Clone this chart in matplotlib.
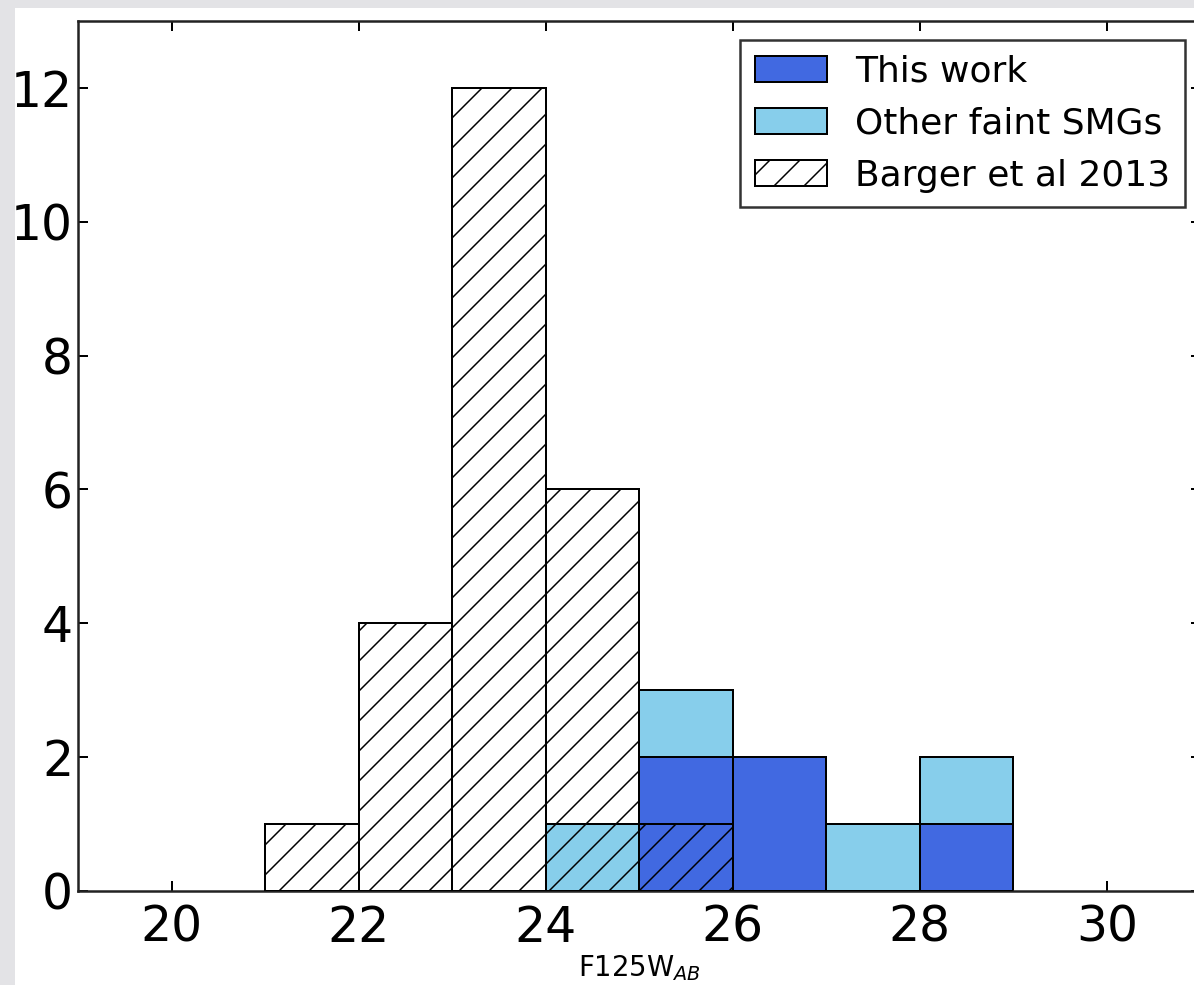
import matplotlib
matplotlib.use("Agg")
import matplotlib.pyplot as plt
from matplotlib.patches import Rectangle

# bin left edges (F125W AB mag), each bin is 1 mag wide
bin_left = [21, 22, 23, 24, 25, 26, 27, 28]
this_work = [0, 0, 0, 0, 2, 2, 0, 1]
other_smgs = [0, 0, 0, 1, 1, 0, 1, 1]
barger = [1, 4, 12, 6, 1, 0, 0, 0]

xticks = [20, 22, 24, 26, 28, 30]
yticks = [0, 2, 4, 6, 8, 10, 12]

plt.rcParams['hatch.linewidth'] = 0.6
plt.rcParams['font.family'] = 'DejaVu Sans'

fig = plt.figure(figsize=(1194 / 180, 985 / 180), dpi=180)
fig.patch.set_facecolor('#e3e3e6')
# white page area (screenshot has a grey shadow on the left and top)
fig.patches.append(Rectangle((15 / 1194, 0), 1, 1 - 8 / 985, transform=fig.transFigure,
                             facecolor='white', edgecolor='none', zorder=-10))

ax = fig.add_axes([78 / 1194, 94 / 985, 1122.5 / 1194, 870 / 985])

ax.bar(bin_left, this_work, width=1, align='edge', color='royalblue',
       edgecolor='black', linewidth=0.8, label='This work', zorder=2)
ax.bar(bin_left, other_smgs, width=1, align='edge', bottom=this_work,
       color='skyblue', edgecolor='black', linewidth=0.8,
       label='Other faint SMGs', zorder=2)
ax.bar(bin_left, barger, width=1, align='edge', fill=False, hatch='//',
       edgecolor='black', linewidth=0.8, label='Barger et al 2013', zorder=3)

ax.set_xlim(19, 31)
ax.set_ylim(0, 13)
ax.set_xticks(xticks)
ax.set_yticks(yticks)
ax.tick_params(direction='in', length=4, width=0.8, top=True, right=True,
               labelsize=19.5)
ax.tick_params(axis='x', pad=5)
ax.tick_params(axis='y', pad=2)
for s in ax.spines.values():
    s.set_linewidth(1.0)
    s.set_color('#222222')

ax.set_xlabel('F125W$_{AB}$', fontsize=11, labelpad=0.5)

leg = ax.legend(loc='upper right', bbox_to_anchor=(0.9862, 0.978),
                borderaxespad=0, fontsize=14.4, fancybox=False, framealpha=1,
                edgecolor='#333333')
leg.get_frame().set_linewidth(1.0)

fig.savefig('out.png', dpi=180, facecolor=fig.get_facecolor())
